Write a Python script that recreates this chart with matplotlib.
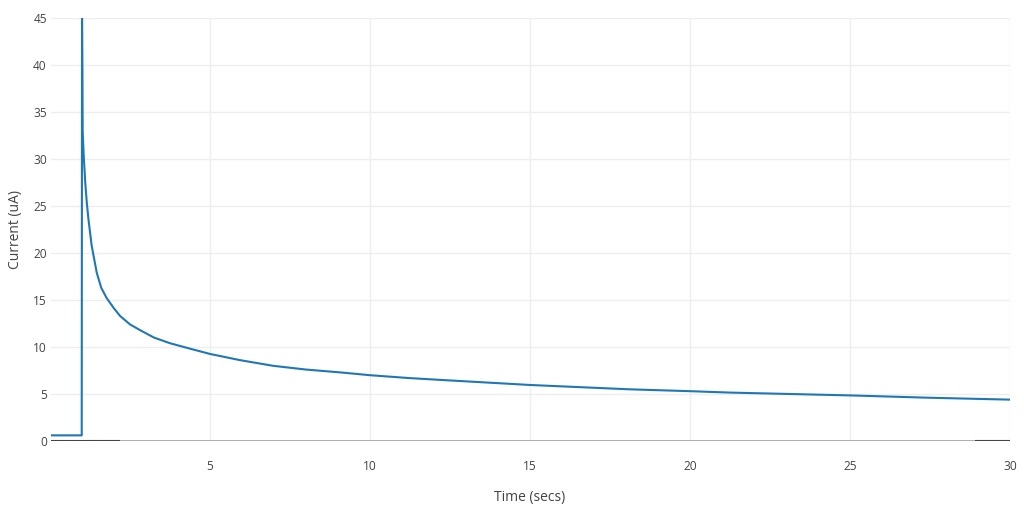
import matplotlib
matplotlib.use("Agg")
import matplotlib.pyplot as plt

# Current trace
time_s = [0.03, 0.5, 0.99, 1.00, 1.01, 1.02, 1.05, 1.10, 1.15, 1.20, 1.30, 1.46, 1.60,
          1.77, 2.00, 2.19, 2.50, 2.81, 3.25, 3.75, 4.40, 5.00, 5.94, 6.97, 8.00, 9.06,
          10.0, 11.2, 12.2, 15.0, 18.1, 20.0, 21.25, 25.0, 27.5, 30.0]
current_ua = [0.6, 0.6, 0.6, 45.0, 40.0, 33.0, 30.5, 27.5, 25.3, 23.6, 20.8, 17.9, 16.3,
              15.2, 14.1, 13.3, 12.4, 11.8, 11.0, 10.4, 9.8, 9.26, 8.6, 8.0, 7.6, 7.3,
              7.0, 6.7, 6.5, 5.96, 5.5, 5.3, 5.15, 4.85, 4.6, 4.4]

# zero-line segments (dark parts at both ends)
dark_x_ranges = [(0.03, 2.2), (28.9, 30.0)]

x_ticks = [5, 10, 15, 20, 25, 30]
y_ticks = [0, 5, 10, 15, 20, 25, 30, 35, 40, 45]

plt.rcParams['font.family'] = ['Open Sans', 'DejaVu Sans']

fig = plt.figure(figsize=(10.24, 5.09), dpi=100)
ax = fig.add_axes([51/1024, 68/509, (1010-51)/1024, (441-18)/509])

ax.set_xlim(0.03, 30)
ax.set_ylim(0, 45)
ax.set_xticks(x_ticks)
ax.set_yticks(y_ticks)
ax.grid(True, color='#eeeeee', linewidth=1.0)
ax.set_axisbelow(True)
for s in ax.spines.values():
    s.set_visible(False)
ax.tick_params(length=0, labelsize=8.6, labelcolor='#444444')
ax.tick_params(axis='x', pad=14)
ax.tick_params(axis='y', pad=3)

ax.axhline(0, color='#999999', linewidth=1.1, zorder=2)
for x0, x1 in dark_x_ranges:
    ax.plot([x0, x1], [0, 0], color='#444444', linewidth=1.5, zorder=3, solid_capstyle='butt')

ax.plot(time_s, current_ua, color='#1f77b4', linewidth=1.5, zorder=4,
        solid_joinstyle='round')

fig.text(530/1024, 1 - 497/509, 'Time (secs)', ha='center', va='center',
         fontsize=10, color='#444444')
fig.text(16/1024, 1 - 229.5/509, 'Current (uA)', ha='center', va='center',
         rotation=90, fontsize=10, color='#444444')

fig.savefig('out.png', dpi=100, facecolor='white')
